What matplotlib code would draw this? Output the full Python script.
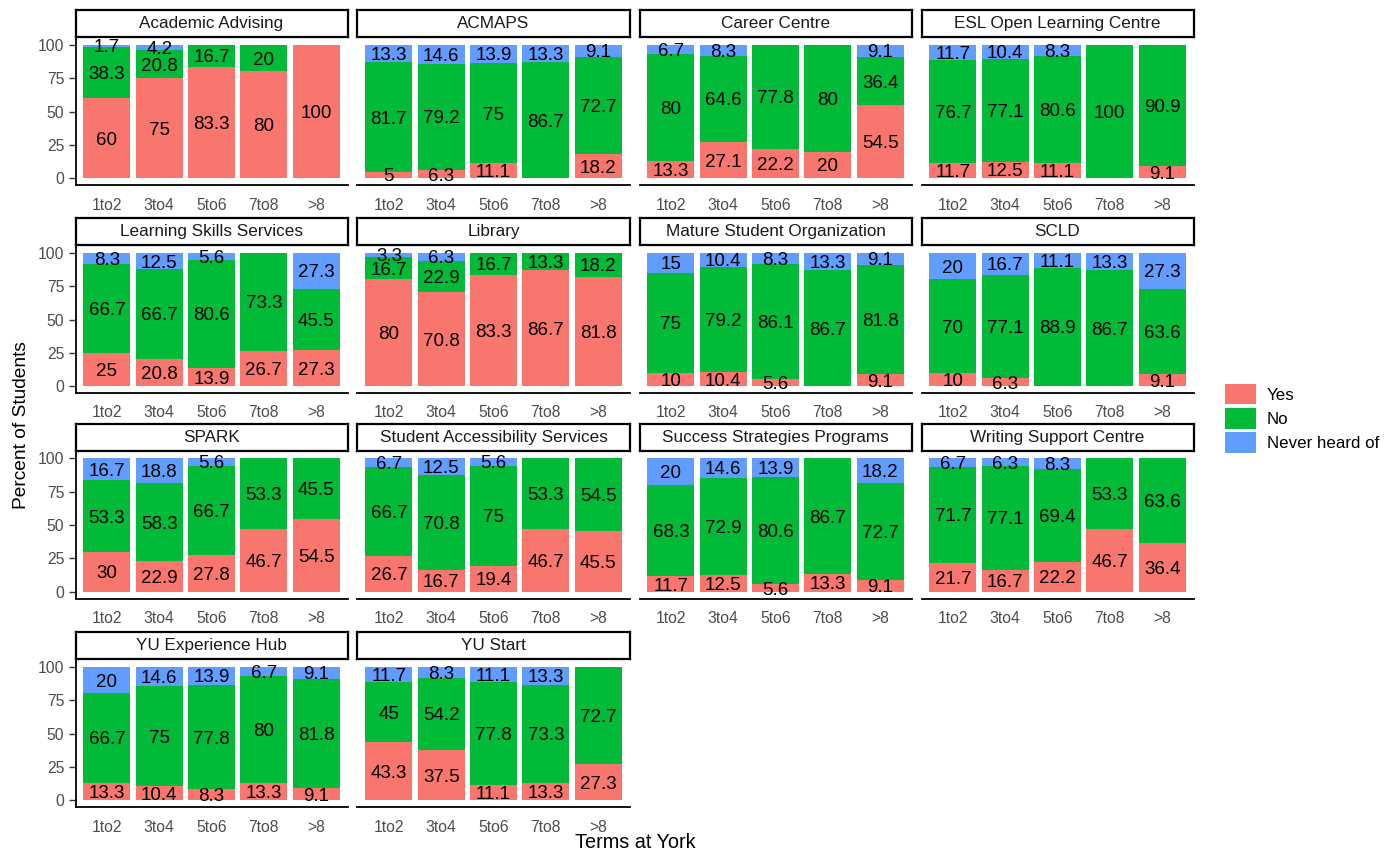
import matplotlib
matplotlib.use("Agg")
import matplotlib.pyplot as plt
from matplotlib.patches import Patch
import numpy as np

# === Data (percent of students) ===
terms = ["1to2", "3to4", "5to6", "7to8", ">8"]
services = [
    "Academic Advising", "ACMAPS", "Career Centre", "ESL Open Learning Centre",
    "Learning Skills Services", "Library", "Mature Student Organization", "SCLD",
    "SPARK", "Student Accessibility Services", "Success Strategies Programs",
    "Writing Support Centre", "YU Experience Hub", "YU Start",
]
yes_pct = [
    [60, 75, 83.3, 80, 100],
    [5, 6.3, 11.1, 0, 18.2],
    [13.3, 27.1, 22.2, 20, 54.5],
    [11.7, 12.5, 11.1, 0, 9.1],
    [25, 20.8, 13.9, 26.7, 27.3],
    [80, 70.8, 83.3, 86.7, 81.8],
    [10, 10.4, 5.6, 0, 9.1],
    [10, 6.3, 0, 0, 9.1],
    [30, 22.9, 27.8, 46.7, 54.5],
    [26.7, 16.7, 19.4, 46.7, 45.5],
    [11.7, 12.5, 5.6, 13.3, 9.1],
    [21.7, 16.7, 22.2, 46.7, 36.4],
    [13.3, 10.4, 8.3, 13.3, 9.1],
    [43.3, 37.5, 11.1, 13.3, 27.3],
]
no_pct = [
    [38.3, 20.8, 16.7, 20, 0],
    [81.7, 79.2, 75, 86.7, 72.7],
    [80, 64.6, 77.8, 80, 36.4],
    [76.7, 77.1, 80.6, 100, 90.9],
    [66.7, 66.7, 80.6, 73.3, 45.5],
    [16.7, 22.9, 16.7, 13.3, 18.2],
    [75, 79.2, 86.1, 86.7, 81.8],
    [70, 77.1, 88.9, 86.7, 63.6],
    [53.3, 58.3, 66.7, 53.3, 45.5],
    [66.7, 70.8, 75, 53.3, 54.5],
    [68.3, 72.9, 80.6, 86.7, 72.7],
    [71.7, 77.1, 69.4, 53.3, 63.6],
    [66.7, 75, 77.8, 80, 81.8],
    [45, 54.2, 77.8, 73.3, 72.7],
]
never_pct = [
    [1.7, 4.2, 0, 0, 0],
    [13.3, 14.6, 13.9, 13.3, 9.1],
    [6.7, 8.3, 0, 0, 9.1],
    [11.7, 10.4, 8.3, 0, 0],
    [8.3, 12.5, 5.6, 0, 27.3],
    [3.3, 6.3, 0, 0, 0],
    [15, 10.4, 8.3, 13.3, 9.1],
    [20, 16.7, 11.1, 13.3, 27.3],
    [16.7, 18.8, 5.6, 0, 0],
    [6.7, 12.5, 5.6, 0, 0],
    [20, 14.6, 13.9, 0, 18.2],
    [6.7, 6.3, 8.3, 0, 0],
    [20, 14.6, 13.9, 6.7, 9.1],
    [11.7, 8.3, 11.1, 13.3, 0],
]
responses = ["Yes", "No", "Never heard of"]
colors = {"Yes": "#F8766D", "No": "#00BA38", "Never heard of": "#619CFF"}

# === Layout (pixels) ===
W, H = 1395, 852
COL_LEFT = [75.5, 357.5, 639.5, 921.5]
ROW_TOP = [38, 246, 451.5, 660]
PANEL_W, PANEL_H = 272, 147
STRIP_H = 27

REG = ["Liberation Sans", "DejaVu Sans"]
NARROW = ["Liberation Sans Narrow", "Liberation Sans", "DejaVu Sans"]


def rect(left, top, w, h):
    return [left / W, 1 - (top + h) / H, w / W, h / H]


fig = plt.figure(figsize=(W / 100, H / 100), dpi=100)
fig.patch.set_facecolor("white")

x = np.arange(1, len(terms) + 1)
for i, name in enumerate(services):
    r, c = divmod(i, 4)
    ax = fig.add_axes(rect(COL_LEFT[c], ROW_TOP[r], PANEL_W, PANEL_H))
    series = [yes_pct[i], no_pct[i], never_pct[i]]
    bottom = np.zeros(len(terms))
    for resp, vals in zip(responses, series):
        vals = np.array(vals, dtype=float)
        ax.bar(x, vals, width=0.9, bottom=bottom, color=colors[resp], linewidth=0)
        for xi, b, v in zip(x, bottom, vals):
            if v > 0:
                ax.text(xi, b + v / 2, f"{v:g}", ha="center", va="center_baseline",
                        fontsize=13.5, family=NARROW, color="black")
        bottom += vals

    ax.set_xlim(0.4, 5.6)
    ax.set_ylim(-5, 105)
    ax.set_xticks(x)
    ax.set_xticklabels(terms, family=REG, fontsize=11.3, color="#4D4D4D")
    ax.tick_params(axis="x", length=0, pad=9)
    for s in ["top", "right"]:
        ax.spines[s].set_visible(False)
    ax.spines["bottom"].set_linewidth(1.3)
    if c == 0:
        ax.set_yticks([0, 25, 50, 75, 100])
        ax.set_yticklabels(["0", "25", "50", "75", "100"], family=REG,
                           fontsize=11.3, color="#4D4D4D")
        ax.tick_params(axis="y", length=5, width=1, color="#333333", pad=3)
        ax.spines["left"].set_linewidth(1.3)
    else:
        ax.set_yticks([])
        ax.spines["left"].set_visible(False)

    # strip
    sax = fig.add_axes(rect(COL_LEFT[c], ROW_TOP[r] - STRIP_H - 1, PANEL_W, STRIP_H))
    sax.set_xticks([])
    sax.set_yticks([])
    for s in sax.spines.values():
        s.set_linewidth(1.6)
        s.set_color("black")
    sax.text(0.5, 0.5, name, ha="center", va="center", transform=sax.transAxes,
             family=REG, fontsize=12.3, color="#1A1A1A")

fig.text(635 / W, 1 - 842 / H, "Terms at York", ha="center", va="center",
         family=REG, fontsize=14.3, color="black")
fig.text(22 / W, 1 - 425 / H, "Percent of Students", ha="center", va="center",
         rotation=90, family=REG, fontsize=13.8, color="black")

handles = [Patch(facecolor=colors[r], edgecolor="none", label=r) for r in responses]
fig.legend(handles=handles, loc="upper left", bbox_to_anchor=(1225 / W, 1 - 384 / H),
           frameon=False, prop={"family": REG, "size": 12.2},
           handlelength=1.83, handleheight=1.48, handletextpad=0.65,
           labelspacing=0.22, borderpad=0, borderaxespad=0)

fig.savefig("out.png", dpi=100)
